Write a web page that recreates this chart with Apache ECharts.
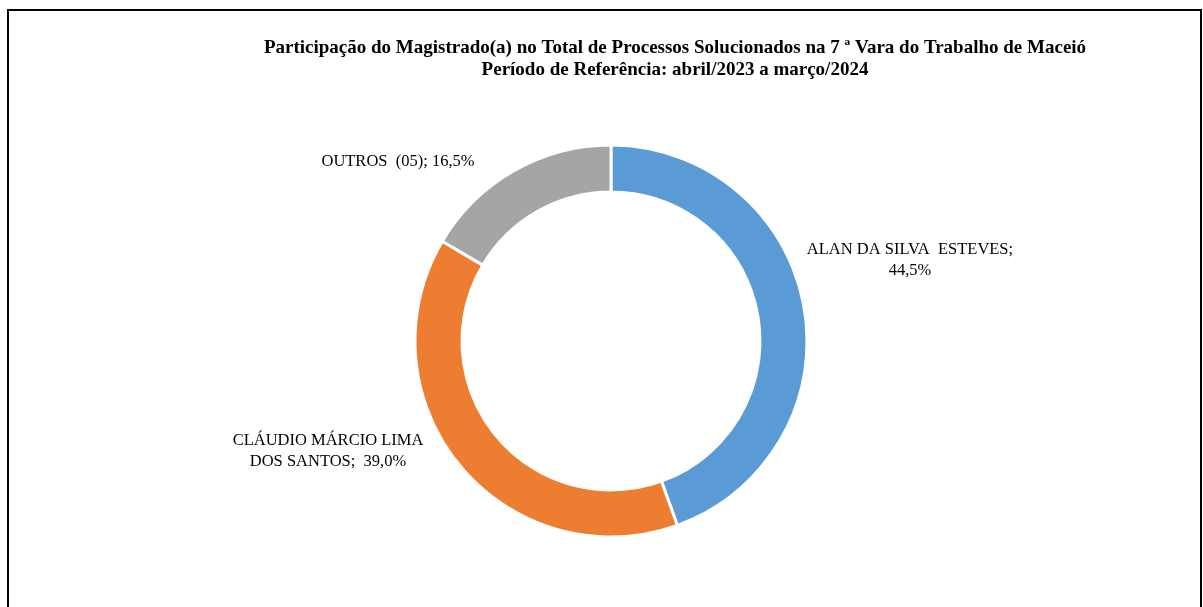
<!DOCTYPE html>
<html><head><meta charset="utf-8">
<script src="https://cdn.jsdelivr.net/npm/echarts@6/dist/echarts.min.js"></script>
<style>html,body{margin:0;padding:0;background:#fff}#c{width:1203px;height:607px}</style>
</head><body><div id="c"></div>
<script>
const titleLines = ['Participação do Magistrado(a) no Total de Processos Solucionados na 7 ª Vara do Trabalho de Maceió', 'Período de Referência: abril/2023 a março/2024'];
const names = ['ALAN DA SILVA ESTEVES', 'CLÁUDIO MÁRCIO LIMA DOS SANTOS', 'OUTROS (05)'];
const labelTexts = ['ALAN DA SILVA  ESTEVES;\n44,5%', 'CLÁUDIO MÁRCIO LIMA\nDOS SANTOS;  39,0%', 'OUTROS  (05); 16,5%'];
const values = [44.5, 39.0, 16.5];
const colors = ['#5B9BD5', '#ED7D31', '#A5A5A5'];
const labelPos = [[910, 260], [328, 451], [398, 162]];

const chart = echarts.init(document.getElementById('c'), null, {renderer: 'canvas'});
chart.setOption({
  backgroundColor: '#fff',
  animation: false,
  graphic: [
    {type: 'polyline', shape: {points: [[8, 607], [8, 10], [1201, 10], [1201, 607]]}, style: {stroke: '#000', lineWidth: 2, fill: null}}
  ],
  title: {
    text: titleLines.join('\n'), left: 670, top: 32, textAlign: 'center',
    textStyle: {fontFamily: 'Liberation Serif', fontWeight: 'bold', fontSize: 19, lineHeight: 22, color: '#000'}
  },
  series: [{
    type: 'pie',
    center: [611, 341],
    radius: [149, 196],
    startAngle: 90,
    clockwise: true,
    data: names.map((n, i) => ({name: n, value: values[i], itemStyle: {color: colors[i]},
      label: {formatter: labelTexts[i]}})),
    itemStyle: {borderColor: '#fff', borderWidth: 3},
    label: {show: true, position: 'outside', fontFamily: 'Liberation Serif', fontSize: 16.5, lineHeight: 21, color: '#000', align: 'center'},
    labelLine: {show: false},
    labelLayout: function (p) {
      const i = p.dataIndex;
      return {x: labelPos[i][0], y: labelPos[i][1], align: 'center', verticalAlign: 'middle'};
    }
  }]
});
</script></body></html>
